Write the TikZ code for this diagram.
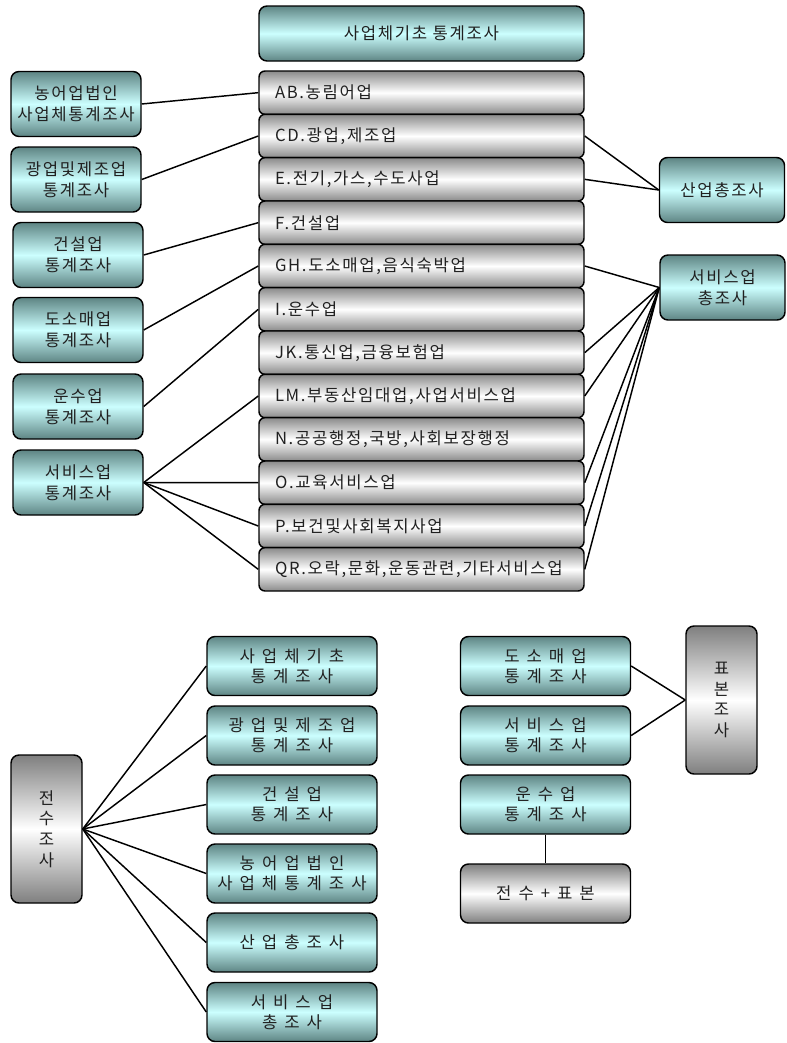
\documentclass[tikz,border=0pt]{standalone}
\usepackage{fontspec}
\newfontfamily\kofont[LetterSpace=10]{Noto Sans CJK KR}
\newcommand\widesp{\spaceskip 0.42em\relax}
\definecolor{tealdark}{HTML}{5E8584}
\definecolor{tealmid}{HTML}{CCFFFF}
\definecolor{graydark}{HTML}{8A8A8A}
\definecolor{graybox}{HTML}{7F7F7F}
\definecolor{txt}{HTML}{202020}
\tikzset{
  base/.style={draw=black, line width=1.1pt, inner sep=0pt, text=txt,
    font={\kofont\fontsize{12.5pt}{15.5pt}\selectfont}, align=center},
  tealbox/.style={base, rounded corners=6pt, top color=tealdark, bottom color=tealdark, middle color=tealmid},
  graybox/.style={base, rounded corners=6pt, top color=graybox, bottom color=graybox, middle color=white},
  indbox/.style={base, rounded corners=4.5pt, top color=graydark, bottom color=graydark, middle color=white,
    text width={293*0.75pt}, inner xsep={16*0.75pt}, minimum height={43.33*0.75pt}, align=left},
  leftbox/.style={tealbox, minimum width={130*0.75pt}, minimum height={65*0.75pt}},
  rightbox/.style={tealbox, minimum width={125*0.75pt}, minimum height={65*0.75pt}},
  wide/.style={font={\kofont\fontsize{12.5pt}{15pt}\selectfont\widesp}},
  botbox/.style={tealbox, wide, minimum width={170*0.75pt}, minimum height={59*0.75pt}},
  vertbox/.style={graybox, minimum width={71*0.75pt}, minimum height={148*0.75pt}},
  conn/.style={draw=black, line width=1.1pt},
}
\begin{document}
\begin{tikzpicture}[x=0.75pt,y=-0.75pt]
\useasboundingbox (0,0) rectangle (786,1043);
% top title
\node[tealbox, minimum width={325*0.75pt}, minimum height={55*0.75pt}] (top) at (421.5,33.5) {사업체기초 통계조사};
% industry boxes
\node[indbox] (ab) at (421.5,92.67) {AB.농림어업};
\node[indbox] (cd) at (421.5,136.0) {CD.광업,제조업};
\node[indbox] (e)  at (421.5,179.33) {E.전기,가스,수도사업};
\node[indbox] (f)  at (421.5,222.67) {F.건설업};
\node[indbox] (gh) at (421.5,266.0) {GH.도소매업,음식숙박업};
\node[indbox] (i)  at (421.5,309.33) {I.운수업};
\node[indbox] (jk) at (421.5,352.67) {JK.통신업,금융보험업};
\node[indbox] (lm) at (421.5,396.0) {LM.부동산임대업,사업서비스업};
\node[indbox] (n)  at (421.5,439.33) {N.공공행정,국방,사회보장행정};
\node[indbox] (o)  at (421.5,482.67) {O.교육서비스업};
\node[indbox] (p)  at (421.5,526.0) {P.보건및사회복지사업};
\node[indbox] (qr) at (421.5,569.33) {QR.오락,문화,운동관련,기타서비스업};
% left boxes
\node[leftbox] (l1) at (76,104) {농어업법인\\사업체통계조사};
\node[leftbox] (l2) at (76,179.5) {광업및제조업\\통계조사};
\node[leftbox] (l3) at (78,255) {건설업\\통계조사};
\node[leftbox] (l4) at (78,330) {도소매업\\통계조사};
\node[leftbox] (l5) at (78,406.5) {운수업\\통계조사};
\node[leftbox] (l6) at (78,482.5) {서비스업\\통계조사};
% right boxes
\node[rightbox] (san) at (722,190) {산업총조사};
\node[rightbox] (svc) at (722.5,287.5) {서비스업\\총조사};
% connectors top section
\draw[conn] (l1.east) -- (ab.west);
\draw[conn] (l2.east) -- (cd.west);
\draw[conn] (l3.east) -- (f.west);
\draw[conn] (l4.east) -- (gh.west);
\draw[conn] (l5.east) -- (i.west);
\draw[conn] (l6.east) -- (lm.west);
\draw[conn] (l6.east) -- (o.west);
\draw[conn] (l6.east) -- (p.west);
\draw[conn] (l6.east) -- (qr.west);
\draw[conn] (cd.east) -- (san.west);
\draw[conn] (e.east) -- (san.west);
\foreach \k in {gh,jk,lm,o,p,qr} {\draw[conn] (\k.east) -- (svc.west);}
% bottom left
\node[vertbox] (jeon) at (46.5,829) {전\\수\\조\\사};
\node[botbox] (b1) at (292,666) {사 업 체 기 초\\통 계 조 사};
\node[botbox] (b2) at (292,735.5) {광 업 및 제 조 업\\통 계 조 사};
\node[botbox] (b3) at (292,804.5) {건 설 업\\통 계 조 사};
\node[botbox] (b4) at (292,873.5) {농 어 업 법 인\\사 업 체 통 계 조 사};
\node[botbox] (b5) at (292,942.5) {산 업 총 조 사};
\node[botbox] (b6) at (292,1012) {서 비 스 업\\총 조 사};
\foreach \k in {b1,b2,b3,b4,b5,b6} {\draw[conn] (jeon.east) -- (\k.west);}
% bottom right
\node[botbox] (r1) at (545.5,666) {도 소 매 업\\통 계 조 사};
\node[botbox] (r2) at (545.5,735.5) {서 비 스 업\\통 계 조 사};
\node[botbox] (r3) at (545.5,804.5) {운 수 업\\통 계 조 사};
\node[graybox, wide, minimum width={170*0.75pt}, minimum height={59*0.75pt}] (r4) at (545.5,893.5) {전 수 + 표 본};
\node[vertbox] (pyo) at (721.5,700) {표\\본\\조\\사};
\draw[conn] (r1.east) -- (pyo.west);
\draw[conn] (r2.east) -- (pyo.west);
\draw[conn] (r3.south) -- (r4.north);
\end{tikzpicture}
\end{document}
